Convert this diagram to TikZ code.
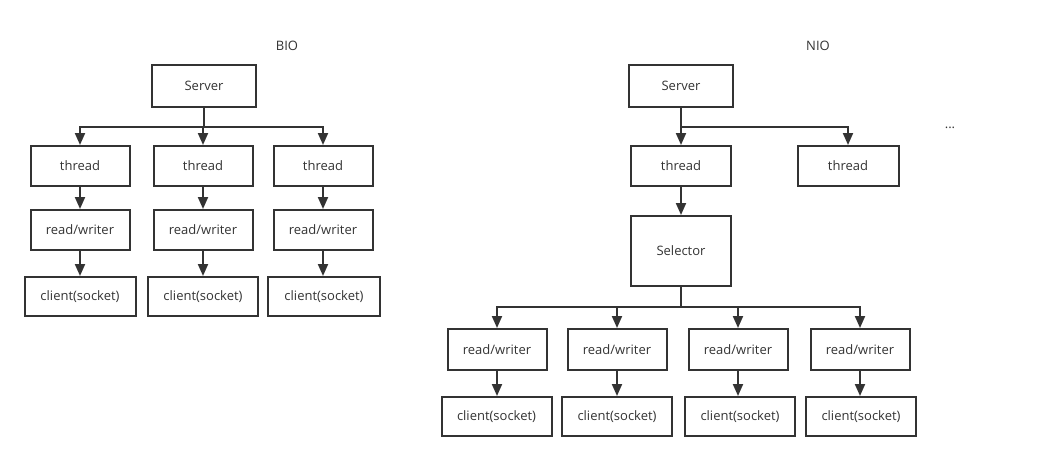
\documentclass[tikz,border=0pt]{standalone}
\usepackage{fontspec}
\setmainfont{Open Sans}
\usetikzlibrary{arrows.meta}
\definecolor{ink}{HTML}{333333}
\begin{document}
\begin{tikzpicture}[x=1pt,y=-1pt,
  box/.style={draw=ink,line width=2pt,text=ink,inner sep=0pt,font=\fontsize{13}{15}\selectfont},
  lbl/.style={text=ink,inner sep=0pt,font=\fontsize{13}{15}\selectfont},
  arr/.style={draw=ink,line width=2pt,-{Triangle[width=10pt,length=12pt]}},
  ln/.style={draw=ink,line width=2pt}]
\useasboundingbox (0,0) rectangle (1055,461);
% BIO
\node[lbl] (bio) at (287,46) {BIO};
\node[box,minimum width=104pt,minimum height=42pt] (bs) at (204,86) {Server};
\foreach \n/\x in {1/80,2/203,3/323}{
  \node[box,minimum width=99pt,minimum height=40pt] (bt\n) at (\x,166) {thread};
  \node[box,minimum width=99pt,minimum height=40pt] (br\n) at (\x,230) {read/writer};
}
\node[box,minimum width=111pt,minimum height=39pt] (bc1) at (80,296.5) {client(socket)};
\node[box,minimum width=110pt,minimum height=39pt] (bc2) at (203,296.5) {client(socket)};
\node[box,minimum width=112pt,minimum height=39pt] (bc3) at (324,296.5) {client(socket)};
\coordinate (bj) at (204,127);
\draw[ln] (bs.south) -- (bj);
\foreach \n in {1,2,3}{
  \draw[arr] (bj) -| (bt\n.north);
  \draw[arr] (bt\n.south) -- (br\n.north);
  \draw[arr] (br\n.south) -- (br\n.south |- bc\n.north);
}
% NIO
\node[lbl] (nio) at (818,46) {NIO};
\node[box,minimum width=104pt,minimum height=42pt] (ns) at (681,86) {Server};
\node[box,minimum width=100pt,minimum height=40pt] (nt1) at (681,166) {thread};
\node[box,minimum width=101pt,minimum height=40pt] (nt2) at (848,166) {thread};
\node[lbl] (dots) at (950,128) {...};
\node[box,minimum width=100pt,minimum height=70pt] (sel) at (681,251) {Selector};
\coordinate (nj) at (681,127);
\draw[ln] (ns.south) -- (nj);
\draw[arr] (nj) -- (nt1.north);
\draw[arr] (nj) -| (nt2.north);
\draw[arr] (nt1.south) -- (sel.north);
\coordinate (sj) at (681,307);
\draw[ln] (sel.south) -- (sj);
\foreach \n/\x/\cx in {1/497/496.5,2/617/617,3/738/740,4/860/861}{
  \node[box,minimum width=99pt,minimum height=41pt] (nr\n) at (\x,349.5) {read/writer};
  \node[box,minimum width=110pt,minimum height=39pt] (nc\n) at (\cx,416.5) {client(socket)};
  \draw[arr] (sj) -| (nr\n.north);
  \draw[arr] (nr\n.south) -- (nr\n.south |- nc\n.north);
}
\end{tikzpicture}
\end{document}
